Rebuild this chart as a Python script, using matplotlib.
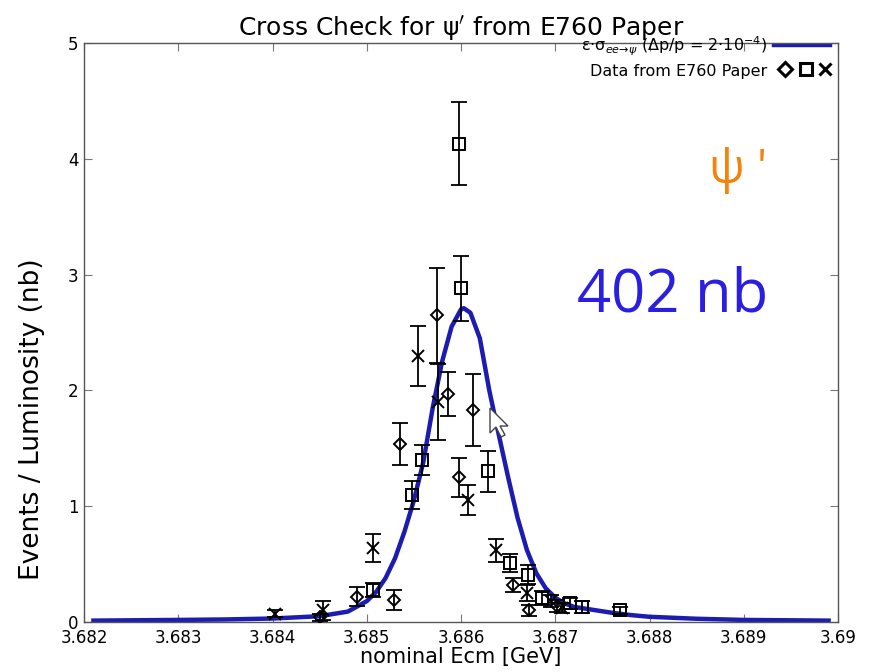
import matplotlib
matplotlib.use("Agg")
import matplotlib.pyplot as plt
from matplotlib.patches import Polygon

# E760 psi' scan, events / luminosity (nb) per marker style
diam_e = [3.68450, 3.68490, 3.68529, 3.68535, 3.68575, 3.68586, 3.68598, 3.68613, 3.68655, 3.68672, 3.68702]
diam_y = [0.04, 0.22, 0.19, 1.54, 2.65, 1.97, 1.25, 1.83, 0.32, 0.10, 0.14]
diam_err = [0.03, 0.08, 0.09, 0.18, 0.41, 0.19, 0.17, 0.31, 0.06, 0.05, 0.05]

sq_e = [3.68507, 3.68548, 3.68559, 3.68598, 3.68600, 3.68629, 3.68652, 3.68671, 3.68686, 3.68716, 3.68728, 3.68769]
sq_y = [0.28, 1.10, 1.40, 4.13, 2.88, 1.30, 0.51, 0.41, 0.21, 0.16, 0.13, 0.10]
sq_err = [0.06, 0.12, 0.13, 0.36, 0.28, 0.18, 0.08, 0.08, 0.06, 0.05, 0.05, 0.03]

x_e = [3.68403, 3.68454, 3.68507, 3.68554, 3.68576, 3.68607, 3.68637, 3.68670, 3.68695, 3.68707]
x_y = [0.07, 0.10, 0.64, 2.30, 1.90, 1.05, 0.62, 0.25, 0.18, 0.12]
x_err = [0.03, 0.08, 0.12, 0.26, 0.33, 0.13, 0.10, 0.07, 0.05, 0.04]

# expected line shape eps*sigma (dp/p = 2e-4)
curve_e = [3.6821, 3.6830, 3.6835, 3.6840, 3.6845, 3.6848, 3.6850, 3.6851, 3.6852,
           3.6853, 3.6854, 3.6855, 3.6856, 3.6857, 3.6858, 3.6859, 3.6860, 3.68603,
           3.6861, 3.6862, 3.6863, 3.6864, 3.6865, 3.6866, 3.6867, 3.6868, 3.6869,
           3.6870, 3.6871, 3.6872, 3.6874, 3.6876, 3.6878, 3.6880, 3.6885, 3.6890,
           3.6899]
curve_y = [0.012, 0.018, 0.022, 0.03, 0.05, 0.09, 0.18, 0.26, 0.38,
           0.55, 0.78, 1.05, 1.38, 1.85, 2.25, 2.55, 2.70, 2.71,
           2.67, 2.45, 2.00, 1.62, 1.25, 0.90, 0.62, 0.42, 0.29,
           0.21, 0.16, 0.13, 0.105, 0.08, 0.06, 0.045, 0.028, 0.018,
           0.012]

xticks = [3.682, 3.683, 3.684, 3.685, 3.686, 3.687, 3.688, 3.689, 3.690]
xtick_labels = ["3.682", "3.683", "3.684", "3.685", "3.686", "3.687", "3.688", "3.689", "3.69"]

W, H = 869, 672
fig = plt.figure(figsize=(W / 100, H / 100), dpi=100)
ax = fig.add_axes([84 / W, 1 - 622 / H, (838 - 84) / W, (622 - 43) / H])

blue = "#1c1cb0"
ax.plot(curve_e, curve_y, color=blue, lw=3.2, solid_joinstyle="round", zorder=2)

eb = dict(fmt="none", ecolor="black", elinewidth=1.3, capsize=6, capthick=1.3, zorder=3)
mk = dict(ls="none", color="black", mfc="none", mew=1.4, zorder=4)
ax.errorbar(diam_e, diam_y, yerr=diam_err, **eb)
ax.errorbar(sq_e, sq_y, yerr=sq_err, **eb)
ax.errorbar(x_e, x_y, yerr=x_err, **eb)
ax.plot(diam_e, diam_y, marker="D", ms=6, **mk)
ax.plot(sq_e, sq_y, marker="s", ms=8, **mk)
ax.plot(x_e, x_y, marker="x", ms=9, **mk)

ax.set_xlim(3.682, 3.690)
ax.set_ylim(0, 5)
ax.set_xticks(xticks)
ax.set_xticklabels(xtick_labels)
ax.set_yticks(range(6))
ax.tick_params(direction="in", top=True, right=True, length=6, width=0.8,
               labelsize=12, color="#777777", pad=4)
ax.tick_params(axis="x", pad=5)
for s in ax.spines.values():
    s.set_color("#555555")
    s.set_linewidth(1.0)

ax.set_xlabel("nominal Ecm [GeV]", fontsize=15, labelpad=0)
ax.set_ylabel("Events / Luminosity (nb)", fontsize=19)
ax.yaxis.set_label_coords(-0.052, 0.35)
ax.set_title("Cross Check for ψ$^{\\prime}$ from E760 Paper", fontsize=18, pad=5)

# legend, gnuplot style: right-aligned text with sample to its right
tr = ax.transAxes
ax.text(0.906, 0.994, "ε·σ$_{ee→ψ}$ (Δp/p = 2·10$^{-4}$)", transform=tr,
        ha="right", va="center", fontsize=11.5)
ax.plot([0.915, 0.99], [0.996, 0.996], transform=tr, color=blue, lw=3.2)
ax.text(0.906, 0.950, "Data from E760 Paper", transform=tr,
        ha="right", va="center", fontsize=11.5)
for xm, m, ms in [(0.93, "D", 7), (0.957, "s", 9), (0.983, "x", 9)]:
    ax.plot([xm], [0.955], transform=tr, marker=m, ms=ms, mew=2.2, color="black", mfc="none")

# annotations
fig.text(738 / W, 1 - 170 / H, "ψ '", color="#f5820a", fontsize=34,
         family="Open Sans", ha="center", va="center")
fig.text(673 / W, 1 - 296 / H, "402 nb", color="#2a1fe0", fontsize=43,
         family="Open Sans", ha="center", va="center")

# mouse pointer
tip = (490, 408)
pts = [(0, 0), (0, 25), (6, 19), (11, 29), (15, 27), (10, 18), (18, 18)]
poly = Polygon([((tip[0] + dx) / W, 1 - (tip[1] + dy) / H) for dx, dy in pts],
               closed=True, transform=fig.transFigure, facecolor="white",
               edgecolor="#444444", lw=1.0, zorder=10)
fig.patches.append(poly)

fig.savefig("out.png", dpi=100)
